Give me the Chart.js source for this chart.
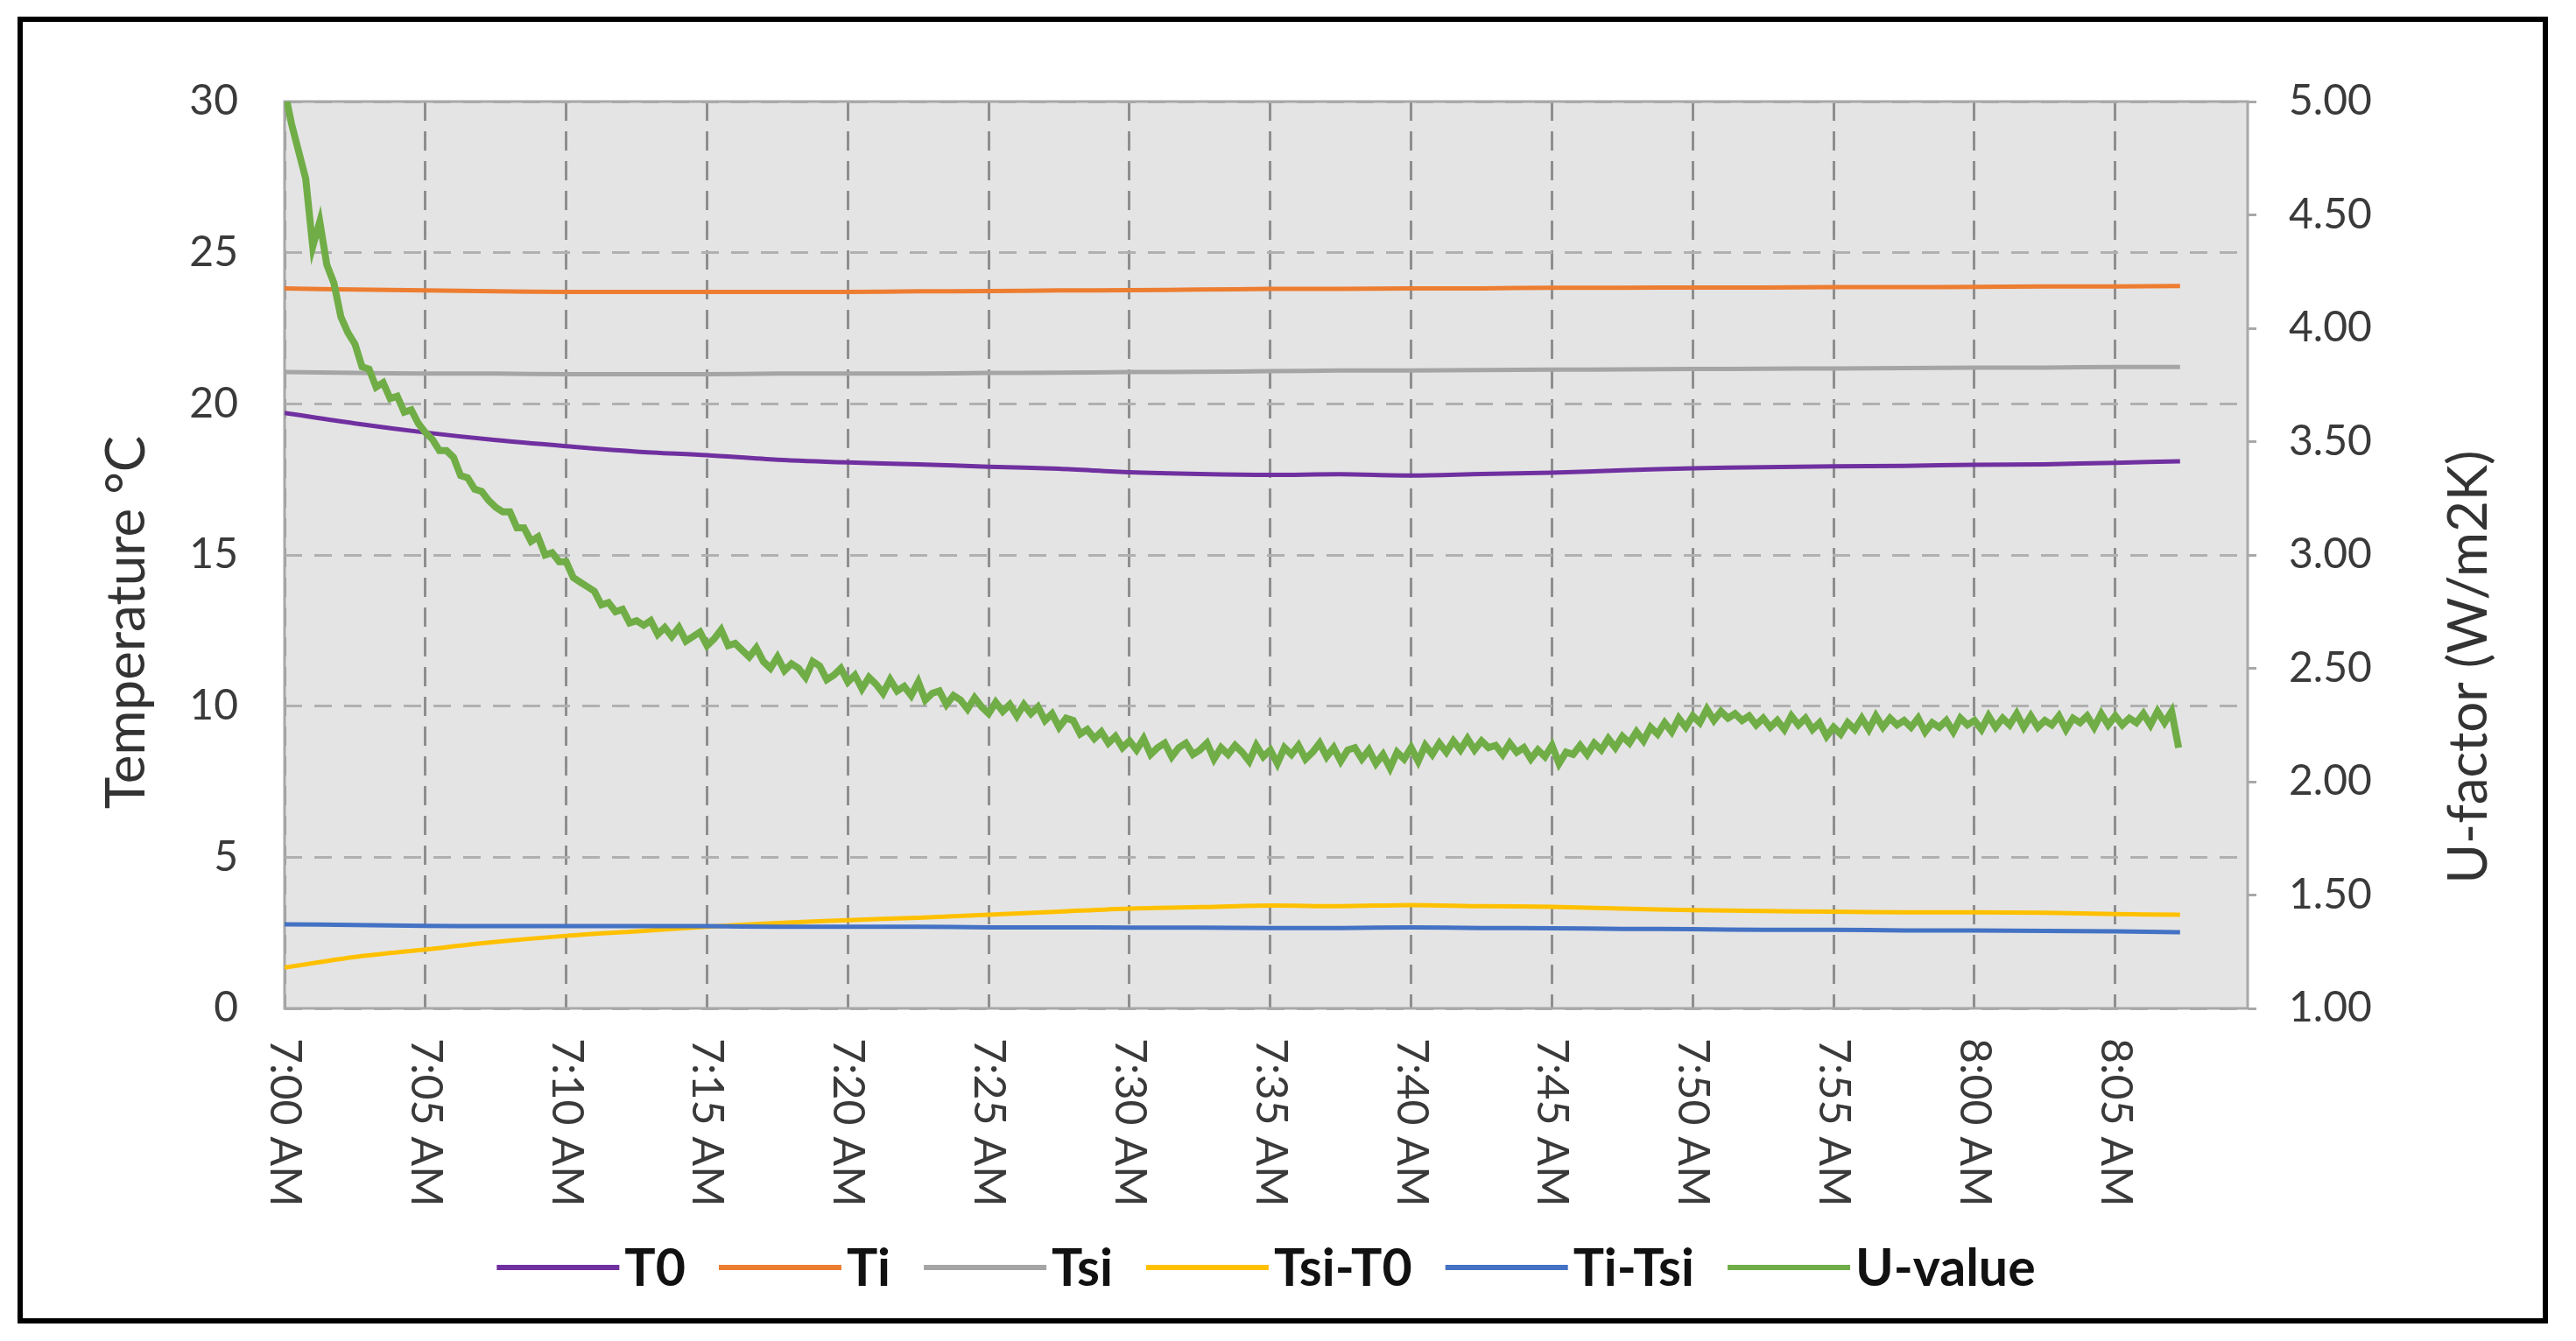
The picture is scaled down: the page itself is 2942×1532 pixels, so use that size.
<!DOCTYPE html>
<html>
<head>
<meta charset="utf-8">
<script src="https://cdn.jsdelivr.net/npm/chart.js@4.4.1/dist/chart.umd.min.js"></script>
<style>
  html, body { margin: 0; padding: 0; background: #fff; }
  #wrap { position: relative; width: 2942px; height: 1532px; }
  #frame { position: absolute; left: 20px; top: 19px; width: 2890px; height: 1493px;
           border: 6px solid #000; box-sizing: border-box; pointer-events: none; }
</style>
</head>
<body>
<div id="wrap">
  <canvas id="myChart" width="2942" height="1532"></canvas>
  <div id="frame"></div>
</div>
<script>
// x tick labels, one every 5 minutes from 7:00 AM
const tickLabels = ["7:00 AM", "7:05 AM", "7:10 AM", "7:15 AM", "7:20 AM", "7:25 AM", "7:30 AM",
  "7:35 AM", "7:40 AM", "7:45 AM", "7:50 AM", "7:55 AM", "8:00 AM", "8:05 AM"];

// minutes after 7:00 for the temperature series
const tempTimes = [0, 2.5, 5, 7.5, 10, 12.5, 15, 17.5, 20, 22.5, 25, 27.5, 30, 32.5,
  35, 37.5, 40, 42.5, 45, 47.5, 50, 52.5, 55, 57.5, 60, 62.5, 65, 67.3];

const t0 = [19.7, 19.35, 19.05, 18.8, 18.6, 18.42, 18.3, 18.15, 18.06, 18.0, 17.92, 17.85, 17.74, 17.68,
  17.65, 17.67, 17.63, 17.68, 17.72, 17.8, 17.87, 17.9, 17.93, 17.95, 17.98, 18.0, 18.05, 18.1];
const ti = [23.82, 23.78, 23.75, 23.72, 23.7, 23.7, 23.7, 23.7, 23.7, 23.72, 23.73, 23.75, 23.76, 23.78,
  23.8, 23.8, 23.82, 23.82, 23.84, 23.84, 23.85, 23.85, 23.86, 23.86, 23.87, 23.88, 23.88, 23.9];
const tsi = [21.05, 21.02, 21.0, 21.0, 20.98, 20.98, 20.98, 21.0, 21.0, 21.0, 21.02, 21.03, 21.05, 21.06,
  21.08, 21.1, 21.1, 21.12, 21.13, 21.14, 21.15, 21.16, 21.17, 21.18, 21.2, 21.2, 21.22, 21.22];
const tsiT0 = [1.35, 1.7, 1.95, 2.2, 2.4, 2.55, 2.7, 2.82, 2.92, 3.0, 3.1, 3.2, 3.3, 3.35,
  3.4, 3.38, 3.42, 3.38, 3.36, 3.3, 3.25, 3.22, 3.2, 3.18, 3.18, 3.16, 3.12, 3.1];
const tiTsi = [2.78, 2.76, 2.73, 2.72, 2.72, 2.72, 2.72, 2.7, 2.7, 2.7, 2.68, 2.68, 2.67, 2.67,
  2.66, 2.66, 2.68, 2.66, 2.65, 2.63, 2.62, 2.6, 2.6, 2.58, 2.58, 2.56, 2.55, 2.52];

// U-value, sampled every 0.25 min from 7:00
const uStart = 0, uStep = 0.25;
const uValue = [
  5.05, 4.90, 4.78, 4.66, 4.36, 4.47, 4.28, 4.20,
  4.05, 3.98, 3.93, 3.83, 3.82, 3.74, 3.76, 3.69,
  3.70, 3.63, 3.64, 3.58, 3.54, 3.51, 3.46, 3.46,
  3.43, 3.35, 3.34, 3.29, 3.28, 3.24, 3.21, 3.19,
  3.19, 3.12, 3.12, 3.06, 3.08, 3.00, 3.01, 2.97,
  2.97, 2.90, 2.88, 2.86, 2.84, 2.78, 2.79, 2.75,
  2.76, 2.70, 2.71, 2.69, 2.71, 2.65, 2.68, 2.64,
  2.68, 2.62, 2.64, 2.66, 2.60, 2.63, 2.67, 2.60,
  2.61, 2.58, 2.55, 2.59, 2.53, 2.50, 2.55, 2.49,
  2.52, 2.50, 2.46, 2.53, 2.51, 2.45, 2.47, 2.50,
  2.44, 2.47, 2.41, 2.46, 2.43, 2.39, 2.45, 2.40,
  2.42, 2.38, 2.44, 2.36, 2.39, 2.40, 2.34, 2.38,
  2.36, 2.32, 2.37, 2.33, 2.30, 2.35, 2.31, 2.34,
  2.29, 2.34, 2.30, 2.33, 2.27, 2.30, 2.24, 2.28,
  2.27, 2.21, 2.23, 2.19, 2.22, 2.17, 2.20, 2.15,
  2.18, 2.14, 2.19, 2.12, 2.15, 2.17, 2.11, 2.15,
  2.17, 2.12, 2.14, 2.17, 2.10, 2.15, 2.12, 2.16,
  2.13, 2.09, 2.16, 2.11, 2.14, 2.08, 2.15, 2.12,
  2.16, 2.10, 2.13, 2.17, 2.11, 2.15, 2.09, 2.14,
  2.15, 2.10, 2.14, 2.08, 2.12, 2.06, 2.13, 2.10,
  2.15, 2.09, 2.16, 2.12, 2.17, 2.13, 2.18, 2.14,
  2.19, 2.14, 2.18, 2.15, 2.16, 2.12, 2.17, 2.13,
  2.15, 2.10, 2.14, 2.11, 2.16, 2.08, 2.13, 2.12,
  2.16, 2.12, 2.17, 2.14, 2.19, 2.15, 2.20, 2.17,
  2.22, 2.18, 2.24, 2.21, 2.26, 2.22, 2.28, 2.24,
  2.29, 2.26, 2.32, 2.27, 2.31, 2.28, 2.30, 2.27,
  2.29, 2.25, 2.28, 2.24, 2.27, 2.23, 2.29, 2.25,
  2.28, 2.23, 2.26, 2.20, 2.24, 2.21, 2.26, 2.23,
  2.28, 2.23, 2.29, 2.24, 2.28, 2.25, 2.27, 2.24,
  2.28, 2.22, 2.26, 2.24, 2.27, 2.22, 2.28, 2.25,
  2.27, 2.23, 2.29, 2.24, 2.28, 2.25, 2.30, 2.24,
  2.29, 2.24, 2.27, 2.25, 2.29, 2.23, 2.28, 2.26,
  2.29, 2.24, 2.30, 2.25, 2.29, 2.25, 2.28, 2.26,
  2.30, 2.25, 2.31, 2.26, 2.31, 2.15
];

const seriesNames = ["T0", "Ti", "Tsi", "Tsi-T0", "Ti-Tsi", "U-value"];
const seriesColors = ["#7030A0", "#ED7D31", "#A5A5A5", "#FFC000", "#4472C4", "#70AD47"];

const uTimes = uValue.map((v, i) => uStart + i * uStep);
function pts(times, vals) {
  return vals.map((v, i) => ({ x: times[i], y: v }));
}

const tempSets = [t0, ti, tsi, tsiT0, tiTsi].map((vals, i) => ({
  label: seriesNames[i],
  data: pts(tempTimes, vals),
  borderColor: seriesColors[i],
  borderWidth: 5,
  pointRadius: 0,
  tension: 0.3,
  yAxisID: "y",
  order: 6 - i,
}));
tempSets.push({
  label: seriesNames[5],
  data: pts(uTimes, uValue),
  borderColor: seriesColors[5],
  borderWidth: 8,
  pointRadius: 0,
  tension: 0,
  yAxisID: "y1",
  order: 0,
});

const FONT = "Lato, 'Liberation Sans', sans-serif";

const decor = {
  id: "decor",
  beforeDraw(chart) {
    const { ctx, chartArea: a } = chart;
    ctx.save();
    ctx.fillStyle = "#e4e4e4";
    ctx.fillRect(a.left, a.top, a.right - a.left, a.bottom - a.top);
    ctx.restore();
  },
  beforeDatasetsDraw(chart) {
    const { ctx, chartArea: a } = chart;
    ctx.save();
    ctx.strokeStyle = "#a8a8a8";
    ctx.lineWidth = 3;
    ctx.strokeRect(a.left, a.top, a.right - a.left, a.bottom - a.top);
    ctx.restore();
  },
  afterDraw(chart) {
    const { ctx, chartArea: a } = chart;
    const xs = chart.scales.x;
    ctx.save();
    // rotated time labels, reading top to bottom
    ctx.fillStyle = "#3a3a3a";
    ctx.font = "50px " + FONT;
    ctx.textAlign = "left";
    ctx.textBaseline = "middle";
    xs.ticks.forEach(t => {
      const lbl = tickLabels[Math.round(t.value / 5)];
      if (!lbl) return;
      ctx.save();
      ctx.translate(xs.getPixelForValue(t.value), a.bottom + 34);
      ctx.rotate(Math.PI / 2);
      ctx.fillText(lbl, 0, 0);
      ctx.restore();
    });
    // axis titles
    ctx.font = "62px " + FONT;
    ctx.textAlign = "center";
    ctx.fillStyle = "#333";
    [["Temperature °C", 145, 711], ["U-factor (W/m2K)", 2820, 762]].forEach(([txt, x, y]) => {
      ctx.save();
      ctx.translate(x, y);
      ctx.rotate(-Math.PI / 2);
      ctx.fillText(txt, 0, 0);
      ctx.restore();
    });
    // legend
    ctx.font = "bold 59px " + FONT;
    const lineLen = 140, gap = 6, space = 38;
    const widths = seriesNames.map(n => lineLen + gap + ctx.measureText(n).width);
    const total = widths.reduce((s, w) => s + w, 0) + space * (widths.length - 1);
    let x = (a.left + a.right) / 2 - total / 2;
    const y = 1448;
    ctx.textAlign = "left";
    seriesNames.forEach((n, i) => {
      ctx.strokeStyle = seriesColors[i];
      ctx.lineWidth = 6;
      ctx.beginPath();
      ctx.moveTo(x, y);
      ctx.lineTo(x + lineLen, y);
      ctx.stroke();
      ctx.fillStyle = "#111";
      ctx.fillText(n, x + lineLen + gap, y + 2);
      x += widths[i] + space;
    });
    ctx.restore();
  },
};

const options = {
  responsive: false,
  animation: false,
  devicePixelRatio: 1,
  layout: { padding: { top: 116, left: 0, right: 0, bottom: 0 } },
  plugins: { legend: { display: false }, tooltip: { enabled: false } },
  scales: {
    x: {
      type: "linear",
      min: 0,
      max: 69.7,
      afterFit: s => { s.height = 380; },
      ticks: { stepSize: 5, display: false, includeBounds: false },
      grid: { color: "#8e8e8e", lineWidth: 3, drawTicks: false },
      border: { display: false, dash: [22, 12] },
    },
    y: {
      position: "left",
      min: 0,
      max: 30,
      afterFit: s => { s.width = 325; },
      ticks: { stepSize: 5, padding: 53, color: "#3a3a3a", font: { family: FONT, size: 48 } },
      grid: { color: "#b0b0b0", lineWidth: 3, drawTicks: false },
      border: { display: false, dash: [20, 14] },
    },
    y1: {
      position: "right",
      min: 1,
      max: 5,
      afterFit: s => { s.width = 375; },
      ticks: {
        stepSize: 0.5, padding: 37, color: "#3a3a3a", font: { family: FONT, size: 48 },
        callback: v => v.toFixed(2),
      },
      grid: { drawOnChartArea: false, drawTicks: true, tickLength: 10, color: "#a8a8a8", lineWidth: 3 },
      border: { display: false },
    },
  },
};

const ctx = document.getElementById("myChart").getContext("2d");
const myChart = new Chart(ctx, {
  type: "line",
  data: { datasets: tempSets },
  options: options,
  plugins: [decor],
});
</script>
</body>
</html>
